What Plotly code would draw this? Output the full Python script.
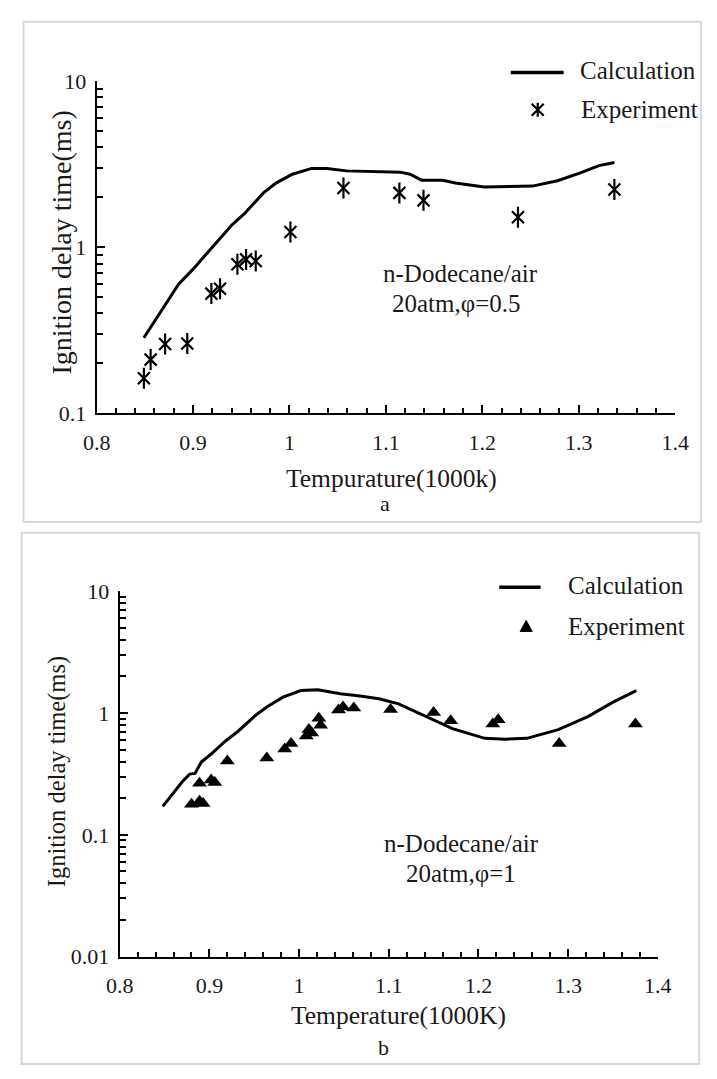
import plotly.graph_objects as go

# ---------------- data ----------------
# Panel a: n-Dodecane/air, 20 atm, phi=0.5
Ta_calc = [0.849, 0.860, 0.873, 0.885, 0.900, 0.920, 0.940, 0.953, 0.973, 0.986, 1.003,
           1.023, 1.039, 1.059, 1.093, 1.115, 1.125, 1.137, 1.159, 1.172, 1.202, 1.252,
           1.278, 1.301, 1.321, 1.337]
IDTa_calc = [0.286, 0.359, 0.47, 0.60, 0.74, 1.01, 1.36, 1.59, 2.13, 2.44, 2.76,
             2.99, 2.99, 2.89, 2.86, 2.84, 2.76, 2.54, 2.54, 2.44, 2.31, 2.34,
             2.52, 2.80, 3.11, 3.25]
Ta_exp = [0.849, 0.856, 0.871, 0.894, 0.919, 0.928, 0.946, 0.955, 0.965, 1.001,
          1.056, 1.114, 1.139, 1.237, 1.337]
IDTa_exp = [0.163, 0.211, 0.262, 0.264, 0.527, 0.564, 0.791, 0.847, 0.828, 1.24,
            2.28, 2.13, 1.92, 1.52, 2.23]

# Panel b: n-Dodecane/air, 20 atm, phi=1
Tb_calc = [0.848, 0.857, 0.870, 0.878, 0.884, 0.891, 0.902, 0.918, 0.932, 0.952, 0.964,
           0.982, 1.002, 1.021, 1.046, 1.068, 1.089, 1.111, 1.143, 1.171, 1.207, 1.230,
           1.254, 1.289, 1.322, 1.350, 1.376]
IDTb_calc = [0.171, 0.208, 0.274, 0.315, 0.319, 0.396, 0.461, 0.590, 0.709, 0.964, 1.12,
             1.35, 1.53, 1.55, 1.44, 1.38, 1.31, 1.19, 0.92, 0.745, 0.62, 0.61,
             0.62, 0.731, 0.935, 1.23, 1.53]
Tb_exp = [0.880, 0.889, 0.893, 0.889, 0.902, 0.906, 0.920, 0.964, 0.984, 0.991, 1.008,
          1.011, 1.014, 1.022, 1.024, 1.044, 1.049, 1.061, 1.102, 1.150, 1.169, 1.216,
          1.222, 1.290, 1.375]
IDTb_exp = [0.178, 0.189, 0.181, 0.265, 0.282, 0.269, 0.403, 0.428, 0.506, 0.561, 0.647,
            0.731, 0.687, 0.906, 0.792, 1.06, 1.12, 1.10, 1.07, 1.01, 0.866, 0.812,
            0.879, 0.562, 0.812]

x_ticks = [0.8, 0.9, 1.0, 1.1, 1.2, 1.3, 1.4]
x_ticklabels = ["0.8", "0.9", "1", "1.1", "1.2", "1.3", "1.4"]

# ---------------- layout helpers ----------------
W, H = 717, 1079
FONT = "Liberation Serif, Times New Roman, serif"
TXT = "#1a1a1a"


def fx(p):
    return p / W


def fy(p):
    return 1 - p / H


fig = go.Figure()

line_style = dict(color="black", width=3)
mk_x = dict(symbol="x-thin-open", size=12, line=dict(color="black", width=2.2), color="black")
mk_v = dict(symbol="line-ns-open", size=15, line=dict(color="black", width=2.2), color="black")
mk_tri = dict(symbol="triangle-up", size=13, color="black", line=dict(width=0))

# Panel a
fig.add_trace(go.Scatter(x=Ta_calc, y=IDTa_calc, mode="lines", line=line_style,
                         name="Calculation", showlegend=False, xaxis="x", yaxis="y"))
fig.add_trace(go.Scatter(x=Ta_exp, y=IDTa_exp, mode="markers", marker=mk_x,
                         name="Experiment", showlegend=False, xaxis="x", yaxis="y"))
fig.add_trace(go.Scatter(x=Ta_exp, y=IDTa_exp, mode="markers", marker=mk_v,
                         name="Experiment", showlegend=False, xaxis="x", yaxis="y"))
# Panel b
fig.add_trace(go.Scatter(x=Tb_calc, y=IDTb_calc, mode="lines", line=line_style,
                         name="Calculation", showlegend=False, xaxis="x2", yaxis="y2"))
fig.add_trace(go.Scatter(x=Tb_exp, y=IDTb_exp, mode="markers", marker=mk_tri,
                         name="Experiment", showlegend=False, xaxis="x2", yaxis="y2"))

tickfont = dict(family=FONT, size=22, color=TXT)


def xax(domain, anchor):
    return dict(domain=domain, anchor=anchor, range=[0.8, 1.4], tickmode="array",
                tickvals=x_ticks, ticktext=x_ticklabels, ticks="inside", ticklen=8,
                tickwidth=1.5, tickcolor="black", showline=True, linecolor="black",
                linewidth=2, showgrid=False, zeroline=False, tickfont=tickfont,
                ticklabelstandoff=8,
                minor=dict(tickmode="linear", tick0=0.8, dtick=0.02, ticks="inside",
                           ticklen=5, tickwidth=1.5, tickcolor="black", showgrid=False))


def yax(domain, anchor, rng):
    return dict(domain=domain, anchor=anchor, type="log", range=rng, dtick=1,
                ticks="inside", ticklen=8, tickwidth=1.5, tickcolor="black",
                showline=True, linecolor="black", linewidth=2, showgrid=False,
                zeroline=False, tickfont=tickfont, ticklabelstandoff=4,
                minor=dict(dtick="D1", ticks="inside", ticklen=6, tickwidth=1.5,
                           tickcolor="black", showgrid=False))


fig.update_layout(
    width=W, height=H, autosize=False, margin=dict(l=0, r=0, t=0, b=0),
    paper_bgcolor="white", plot_bgcolor="white", showlegend=False,
    xaxis=xax([fx(86), fx(688)], "y"),
    yaxis=yax([fy(411), fy(71)], "x", [-1, 1]),
    xaxis2=xax([fx(110), fx(670)], "y2"),
    yaxis2=yax([fy(967), fy(593)], "x2", [-2, 1]),
    font=dict(family=FONT, color=TXT),
)

shapes = []
# panel frames
shapes.append(dict(type="rect", xref="paper", yref="paper", x0=fx(10), x1=fx(715),
                   y0=fy(10), y1=fy(522), line=dict(color="#d8d8d8", width=2)))
shapes.append(dict(type="rect", xref="paper", yref="paper", x0=fx(8), x1=fx(713),
                   y0=fy(533), y1=fy(1077), line=dict(color="#d8d8d8", width=2)))
# legend line samples
shapes.append(dict(type="line", xref="paper", yref="paper", x0=fx(517), x1=fx(572),
                   y0=fy(62), y1=fy(62), line=dict(color="black", width=3.5)))
shapes.append(dict(type="line", xref="paper", yref="paper", x0=fx(505), x1=fx(548),
                   y0=fy(589), y1=fy(589), line=dict(color="black", width=3.5)))
# legend marker glyphs (pixel-sized paths anchored in paper coordinates)
shapes.append(dict(type="path", xref="paper", yref="paper", xsizemode="pixel",
                   ysizemode="pixel", xanchor=fx(545), yanchor=fy(100),
                   path="M-6,-6L6,6M-6,6L6,-6M0,-7L0,7", line=dict(color="black", width=2.2)))
shapes.append(dict(type="path", xref="paper", yref="paper", xsizemode="pixel",
                   ysizemode="pixel", xanchor=fx(533), yanchor=fy(629),
                   path="M0,6L-6,-5L6,-5Z", fillcolor="black", line=dict(color="black", width=1)))
fig.update_layout(shapes=shapes)


def ann(text, x, y, size, xanchor="center", angle=0):
    return dict(text=text, x=fx(x), y=fy(y), xref="paper", yref="paper", showarrow=False,
                xanchor=xanchor, yanchor="middle", textangle=angle,
                font=dict(family=FONT, size=size, color=TXT))


annotations = [
    # legends
    ann("Calculation", 587, 60, 25, "left"),
    ann("Experiment", 588, 100, 25, "left"),
    ann("Calculation", 574, 587, 25, "left"),
    ann("Experiment", 574, 629, 25, "left"),
    # condition labels
    ann("n-Dodecane/air", 465, 268, 25),
    ann("20atm,φ=0.5", 461, 298, 25),
    ann("n-Dodecane/air", 466, 851, 25),
    ann("20atm,φ=1", 465, 882, 25),
    # axis titles
    ann("Tempurature(1000k)", 393, 478, 25.5),
    ann("Temperature(1000K)", 400, 1027, 25.5),
    ann("Ignition delay time(ms)", 49, 236, 28, angle=-90),
    ann("Ignition delay time(ms)", 45, 778, 24.5, angle=-90),
    # panel letters
    ann("a", 386, 503, 22),
    ann("b", 384, 1060, 22),
]
fig.update_layout(annotations=annotations)

fig.write_html("out.html", config={"responsive": False})
